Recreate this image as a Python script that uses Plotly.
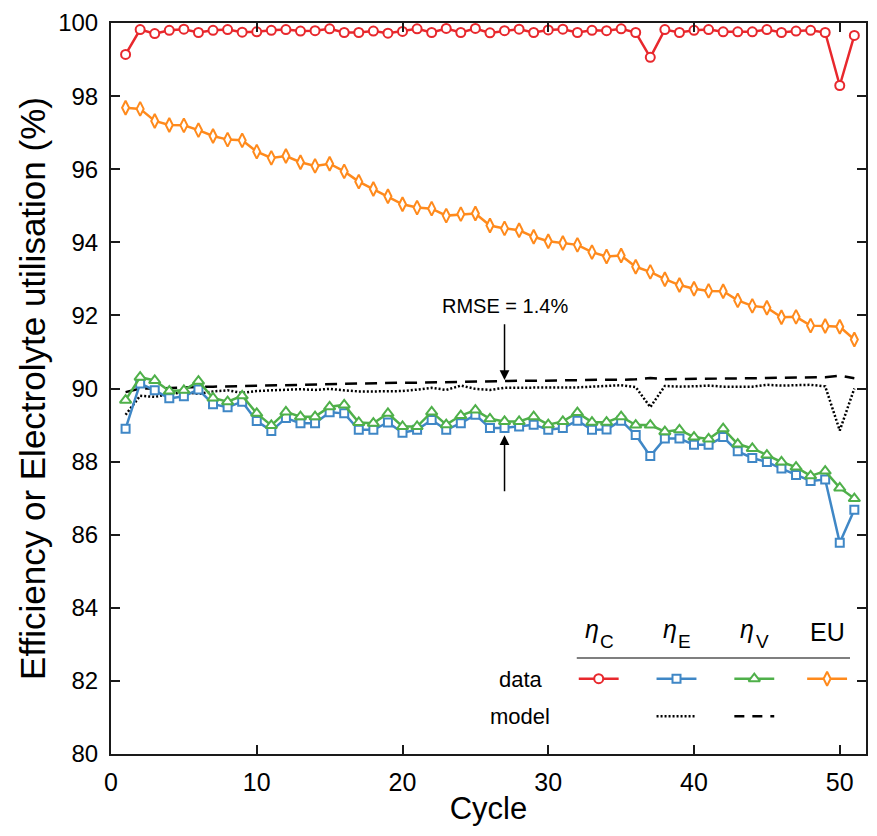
import plotly.graph_objects as go

# ---------------- data ----------------
cycles = list(range(1, 52))

eta_C = [99.14, 99.82, 99.71, 99.80, 99.83, 99.74, 99.80, 99.82, 99.75, 99.76,
         99.80, 99.82, 99.78, 99.79, 99.84, 99.74, 99.74, 99.78, 99.72, 99.77,
         99.84, 99.74, 99.85, 99.74, 99.85, 99.73, 99.79, 99.83, 99.74, 99.81,
         99.83, 99.74, 99.80, 99.79, 99.84, 99.74, 99.06, 99.82, 99.74, 99.80,
         99.82, 99.76, 99.76, 99.76, 99.82, 99.74, 99.78, 99.80, 99.74, 98.29, 99.66]

eta_E = [88.90, 90.14, 89.95, 89.73, 89.79, 89.97, 89.57, 89.49, 89.64, 89.11,
         88.84, 89.19, 89.05, 89.05, 89.35, 89.32, 88.87, 88.87, 89.07, 88.79,
         88.87, 89.14, 88.87, 89.05, 89.28, 88.92, 88.92, 88.96, 89.01, 88.87,
         88.92, 89.12, 88.87, 88.88, 89.12, 88.73, 88.15, 88.63, 88.63, 88.46,
         88.46, 88.67, 88.28, 88.10, 87.99, 87.81, 87.63, 87.47, 87.51, 85.78, 86.68]

eta_V = [89.68, 90.31, 90.22, 89.93, 89.95, 90.20, 89.74, 89.64, 89.80, 89.32,
         88.99, 89.36, 89.23, 89.23, 89.50, 89.55, 89.07, 89.05, 89.32, 88.96,
         88.96, 89.36, 89.01, 89.26, 89.41, 89.17, 89.10, 89.10, 89.23, 89.01,
         89.10, 89.34, 89.08, 89.08, 89.23, 89.00, 89.00, 88.82, 88.87, 88.67,
         88.62, 88.90, 88.48, 88.36, 88.18, 87.99, 87.85, 87.61, 87.74, 87.28, 86.99]

EU = [97.68, 97.65, 97.32, 97.21, 97.20, 97.07, 96.91, 96.81, 96.79, 96.48,
      96.31, 96.36, 96.19, 96.09, 96.15, 95.94, 95.66, 95.46, 95.26, 95.04,
      94.95, 94.92, 94.73, 94.77, 94.79, 94.46, 94.38, 94.33, 94.15, 94.03,
      93.98, 93.93, 93.73, 93.61, 93.64, 93.33, 93.19, 92.99, 92.83, 92.73,
      92.67, 92.66, 92.41, 92.26, 92.21, 91.95, 91.96, 91.72, 91.71, 91.69, 91.34]

eta_E_model = [89.28, 89.80, 89.77, 89.85, 89.90, 89.85, 89.92, 89.95, 89.88, 89.93,
               89.95, 89.97, 89.98, 89.96, 89.99, 89.95, 89.92, 89.92, 89.93, 89.93,
               89.97, 90.02, 89.96, 90.08, 89.99, 89.96, 90.02, 90.02, 90.03, 90.02,
               90.04, 90.03, 90.05, 90.06, 90.09, 90.04, 89.49, 90.07, 90.05, 90.06,
               90.08, 90.05, 90.05, 90.05, 90.10, 90.08, 90.09, 90.10, 90.06, 88.85, 90.00]

eta_V_model = [89.90, 90.00, 90.00, 90.02, 90.03, 90.04, 90.05, 90.06, 90.07, 90.08,
               90.09, 90.10, 90.11, 90.12, 90.12, 90.13, 90.14, 90.14, 90.15, 90.16,
               90.16, 90.17, 90.18, 90.18, 90.19, 90.20, 90.20, 90.21, 90.21, 90.22,
               90.22, 90.23, 90.23, 90.24, 90.24, 90.25, 90.29, 90.25, 90.26, 90.26,
               90.27, 90.27, 90.28, 90.28, 90.29, 90.29, 90.30, 90.30, 90.31, 90.35, 90.28]

x_ticks = [0, 10, 20, 30, 40, 50]
y_ticks = [80, 82, 84, 86, 88, 90, 92, 94, 96, 98, 100]
x_range = [0, 51.8]
y_range = [80, 100]

rmse_text = "RMSE = 1.4%"
rmse_cycle = 27
eta_subscripts = ["C", "E", "V"]
eu_header = "EU"

# ---------------- style ----------------
RED = "#e8282d"
BLUE = "#3f87c6"
GREEN = "#4fb04a"
ORANGE = "#ff8a1c"
FONT = "Liberation Sans, Arial, Helvetica, sans-serif"
AX = "#1a1a1a"

W, H = 877, 836
L, R, T, B = 111, 9, 16, 82
PX0, PX1, PY0, PY1 = L, W - R, H - B, T


def fx(px):
    return (px - PX0) / (PX1 - PX0)


def fy(py):
    return (PY0 - py) / (PY0 - PY1)


fig = go.Figure()

# model lines
fig.add_trace(go.Scatter(x=cycles, y=eta_E_model, mode="lines",
                         line=dict(color="black", width=2.5, dash="2px,2px"),
                         showlegend=False, hoverinfo="skip"))
fig.add_trace(go.Scatter(x=cycles, y=eta_V_model, mode="lines",
                         line=dict(color="black", width=2.5, dash="12px,8px"),
                         showlegend=False, hoverinfo="skip"))


def data_trace(y, color, symbol, size):
    return go.Scatter(x=cycles, y=y, mode="lines+markers",
                      line=dict(color=color, width=2.5),
                      marker=dict(symbol=symbol, size=size, color="white",
                                  line=dict(color=color, width=2)),
                      showlegend=False, cliponaxis=False)


fig.add_trace(data_trace(eta_E, BLUE, "square", 8))
fig.add_trace(data_trace(eta_V, GREEN, "triangle-up", 10))
fig.add_trace(data_trace(EU, ORANGE, "diamond-tall", 10))
fig.add_trace(data_trace(eta_C, RED, "circle", 9))

# ---------------- custom legend (overlay axes in 0..1 units) ----------------
col_x = [600, 678, 756, 829]
row_data_y = 678
row_model_y = 716
half = 20
legend_specs = [(RED, "circle", 9), (BLUE, "square", 8), (GREEN, "triangle-up", 10), (ORANGE, "diamond-tall", 10)]
for cx, (col, sym, sz) in zip(col_x, legend_specs):
    fig.add_trace(go.Scatter(x=[fx(cx - half), fx(cx + half)], y=[fy(row_data_y)] * 2,
                             mode="lines", line=dict(color=col, width=2.5),
                             xaxis="x2", yaxis="y2", showlegend=False, hoverinfo="skip"))
    fig.add_trace(go.Scatter(x=[fx(cx)], y=[fy(row_data_y)], mode="markers",
                             marker=dict(symbol=sym, size=sz, color="white", line=dict(color=col, width=2)),
                             xaxis="x2", yaxis="y2", showlegend=False, hoverinfo="skip"))
fig.add_trace(go.Scatter(x=[fx(col_x[1] - half), fx(col_x[1] + half)], y=[fy(row_model_y)] * 2,
                         mode="lines", line=dict(color="black", width=2.5, dash="2px,2px"),
                         xaxis="x2", yaxis="y2", showlegend=False, hoverinfo="skip"))
fig.add_trace(go.Scatter(x=[fx(col_x[2] - half), fx(col_x[2] + half)], y=[fy(row_model_y)] * 2,
                         mode="lines", line=dict(color="black", width=2.5, dash="10px,8px"),
                         xaxis="x2", yaxis="y2", showlegend=False, hoverinfo="skip"))

annotations = []
# eta headers: italic eta plus a sizeable subscript letter
for cx, sub in zip(col_x[:3], eta_subscripts):
    annotations.append(dict(x=fx(cx - 7), y=fy(628), xref="paper", yref="paper", text="<i>η</i>",
                            showarrow=False, font=dict(size=25, color="black", family=FONT),
                            xanchor="center", yanchor="middle"))
    annotations.append(dict(x=fx(cx + 8), y=fy(640), xref="paper", yref="paper", text=sub,
                            showarrow=False, font=dict(size=19, color="black", family=FONT),
                            xanchor="center", yanchor="middle"))
annotations.append(dict(x=fx(col_x[3]), y=fy(631), xref="paper", yref="paper", text=eu_header,
                        showarrow=False, font=dict(size=25, color="black", family=FONT),
                        xanchor="center", yanchor="middle"))
annotations.append(dict(x=fx(522), y=fy(679), xref="paper", yref="paper", text="data",
                        showarrow=False, font=dict(size=22, color="black", family=FONT),
                        xanchor="center", yanchor="middle"))
annotations.append(dict(x=fx(521), y=fy(716), xref="paper", yref="paper", text="model",
                        showarrow=False, font=dict(size=22, color="black", family=FONT),
                        xanchor="center", yanchor="middle"))

# RMSE text and arrows
annotations.append(dict(x=rmse_cycle, y=91.9, xref="x", yref="y", text=rmse_text,
                        showarrow=False, font=dict(size=20, color="black", family=FONT),
                        xanchor="center", yanchor="bottom"))
annotations.append(dict(x=rmse_cycle, y=eta_V_model[rmse_cycle - 1] + 0.03, xref="x", yref="y",
                        ax=rmse_cycle, ay=91.8, axref="x", ayref="y", text="",
                        showarrow=True, arrowhead=2, arrowsize=1.3, arrowwidth=1.5, arrowcolor="black"))
annotations.append(dict(x=rmse_cycle, y=eta_E[rmse_cycle - 1] - 0.2, xref="x", yref="y",
                        ax=rmse_cycle, ay=87.15, axref="x", ayref="y", text="",
                        showarrow=True, arrowhead=2, arrowsize=1.3, arrowwidth=1.5, arrowcolor="black"))

shapes = [dict(type="line", xref="paper", yref="paper", x0=fx(578), x1=fx(852), y0=fy(657), y1=fy(657),
               line=dict(color="#555555", width=1.5))]

fig.update_layout(
    width=W, height=H,
    margin=dict(l=L, r=R, t=T, b=B, pad=0),
    paper_bgcolor="white", plot_bgcolor="white",
    font=dict(family=FONT, color="black"),
    annotations=annotations, shapes=shapes,
    xaxis=dict(range=x_range, tickvals=x_ticks, ticks="inside", ticklen=9, tickwidth=2,
               tickcolor=AX, showline=True, linecolor=AX, linewidth=2, mirror="ticks",
               showgrid=False, zeroline=False, tickfont=dict(size=25, family=FONT, color="black"),
               ticklabelstandoff=5,
               title=dict(text="Cycle", font=dict(size=31, family=FONT, color="black"), standoff=2)),
    yaxis=dict(range=y_range, tickvals=y_ticks, ticks="inside", ticklen=9, tickwidth=2,
               tickcolor=AX, showline=True, linecolor=AX, linewidth=2, mirror="ticks",
               showgrid=False, zeroline=False, tickfont=dict(size=24, family=FONT, color="black"),
               ticklabelstandoff=6,
               title=dict(text="Efficiency or Electrolyte utilisation (%)",
                          font=dict(size=35, family=FONT, color="black"), standoff=2)),
    xaxis2=dict(overlaying="x", range=[0, 1], visible=False, fixedrange=True),
    yaxis2=dict(overlaying="y", range=[0, 1], visible=False, fixedrange=True),
)

fig.write_html("out.html")
